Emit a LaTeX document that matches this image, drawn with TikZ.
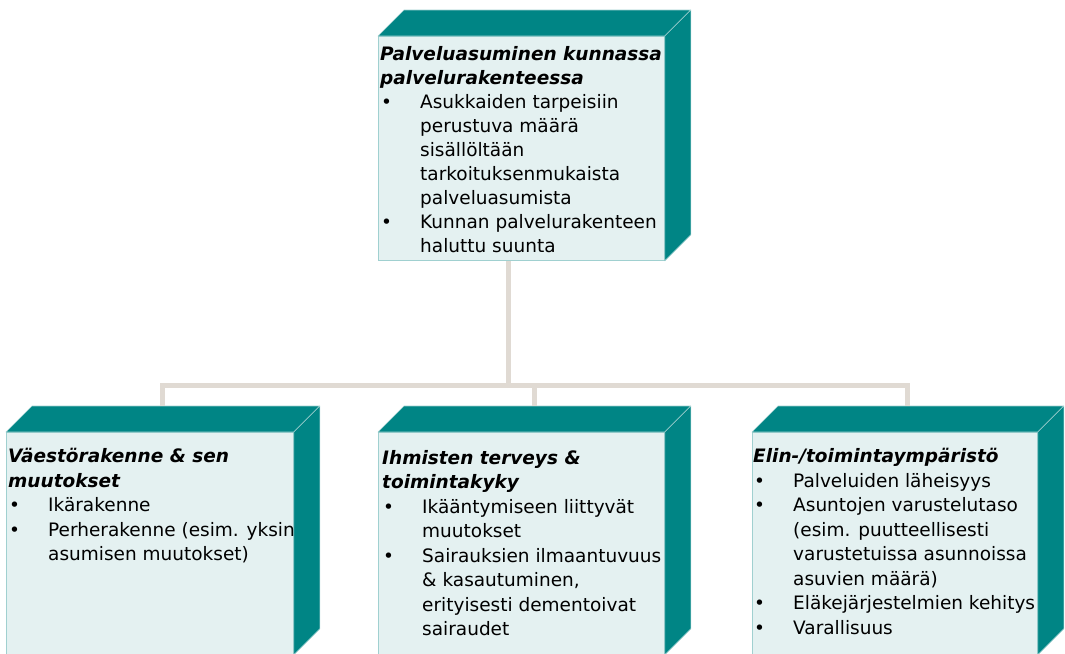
\documentclass[tikz,border=0pt]{standalone}
\usepackage{fontspec}
\setmainfont{DejaVu Sans}
\definecolor{tealbox}{RGB}{0,133,133}
\definecolor{facefill}{RGB}{228,241,241}
\definecolor{faceline}{RGB}{160,208,208}
\definecolor{linkgray}{RGB}{224,218,211}
\newcommand{\bul}{\hspace*{1pt}\makebox[39pt][l]{•}}
\newcommand{\ind}{\hspace*{40pt}}
\newcommand{\otsikko}[1]{\textbf{\textit{#1}}}
\newcommand{\syvyys}[1]{%
  \path[side] (#1.north west) -- ++(26,26) -- ([shift={(26,26)}]#1.north east) -- (#1.north east) -- cycle;
  \path[side] (#1.north east) -- ++(26,26) -- ([shift={(26,26)}]#1.south east) -- (#1.south east) -- cycle;
  \coordinate (#1-katto) at ([shift={(13,26)}]#1.north);}

\begin{document}
\begin{tikzpicture}[x=1pt,y=1pt,
  front/.style={draw=faceline,line width=0.8pt,fill=facefill,anchor=north west,inner sep=0pt},
  side/.style={draw=faceline,line width=0.6pt,fill=tealbox,line join=round},
  teksti/.style={anchor=north west,inner sep=0pt,align=left,font=\fontsize{18.5}{24.5}\selectfont},
  yhteys/.style={draw=linkgray,line width=5pt}]
\useasboundingbox (0,0) rectangle (1065,-653);

\node[front,minimum width=286pt,minimum height=224pt] (ylin) at (378,-36) {};
\node[front,minimum width=287pt,minimum height=222pt] (vasen) at (6,-432) {};
\node[front,minimum width=286pt,minimum height=222pt] (keski) at (378,-432) {};
\node[front,minimum width=285pt,minimum height=222pt] (oikea) at (752,-432) {};
\syvyys{ylin}
\syvyys{vasen}
\syvyys{keski}
\syvyys{oikea}

\coordinate (haara) at (508,-385.5);
\draw[yhteys] (ylin.south -| haara) -- (haara);
\draw[yhteys] (vasen-katto) -- (vasen-katto |- haara) -- (oikea-katto |- haara) -- (oikea-katto);
\draw[yhteys] (haara -| keski-katto) -- (keski-katto);

\node[teksti,font=\fontsize{18.5}{24}\selectfont] (ylin-teksti) at (380,-46) {\otsikko{Palveluasuminen kunnassa}\\
  \otsikko{palvelurakenteessa}\\
  \bul Asukkaiden tarpeisiin\\
  \ind perustuva määrä\\
  \ind sisällöltään\\
  \ind tarkoituksenmukaista\\
  \ind palveluasumista\\
  \bul Kunnan palvelurakenteen\\
  \ind haluttu suunta};
\node[teksti] (vasen-teksti) at (8,-448) {\otsikko{Väestörakenne \& sen}\\
  \otsikko{muutokset}\\
  \bul Ikärakenne\\
  \bul Perherakenne (esim. yksin\\
  \ind asumisen muutokset)};
\node[teksti] (keski-teksti) at (382,-450) {\otsikko{Ihmisten terveys \&}\\
  \otsikko{toimintakyky}\\
  \bul Ikääntymiseen liittyvät\\
  \ind muutokset\\
  \bul Sairauksien ilmaantuvuus\\
  \ind \& kasautuminen,\\
  \ind erityisesti dementoivat\\
  \ind sairaudet};
\node[teksti] (oikea-teksti) at (753,-448) {\otsikko{Elin-/toimintaympäristö}\\
  \bul Palveluiden läheisyys\\
  \bul Asuntojen varustelutaso\\
  \ind (esim. puutteellisesti\\
  \ind varustetuissa asunnoissa\\
  \ind asuvien määrä)\\
  \bul Eläkejärjestelmien kehitys\\
  \bul Varallisuus};
\end{tikzpicture}
\end{document}
